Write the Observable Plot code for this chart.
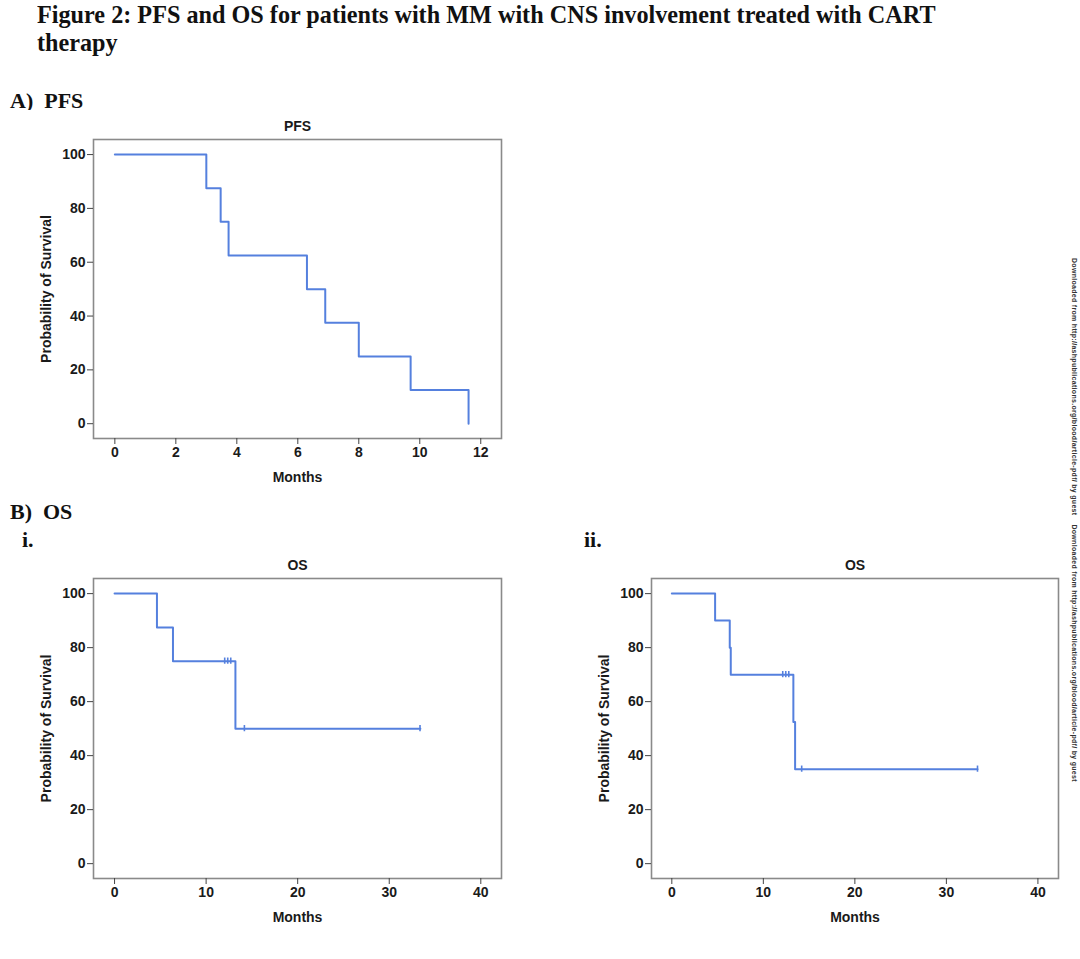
<!DOCTYPE html>
<html>
<head>
<meta charset="utf-8">
<script src="https://cdn.jsdelivr.net/npm/d3@7"></script>
<script src="https://cdn.jsdelivr.net/npm/@observablehq/plot@0.6"></script>
<style>
  html, body { margin: 0; padding: 0; background: #fff; }
  body { width: 1080px; height: 959px; position: relative; overflow: hidden; }
  .serif { position: absolute; font-family: "Liberation Serif", "Times New Roman", serif; font-weight: bold; color: #111; white-space: nowrap; }
  .chart { position: absolute; }
  #title { transform-origin: 0 0; transform: scaleX(0.968); }
  #watermark { position: absolute; left: 1078px; top: 258px; transform-origin: 0 0; transform: rotate(90deg); font: bold 7px "Liberation Sans", Arial, sans-serif; color: #333; white-space: nowrap; letter-spacing: 0.3px; }
</style>
</head>
<body>
<div class="serif" id="title" style="left:37px; top:1px; font-size:25px; line-height:28px;">Figure 2: PFS and OS for patients with MM with CNS involvement treated with CART<br>therapy</div>
<div class="serif" style="left:10px; top:88px; font-size:22px;">A)&nbsp;&nbsp;PFS</div>
<div class="serif" style="left:10px; top:499px; font-size:22px;">B)&nbsp;&nbsp;OS</div>
<div class="serif" style="left:22px; top:527px; font-size:22px;">i.</div>
<div class="serif" style="left:584px; top:527px; font-size:22px;">ii.</div>
<div id="pfs" class="chart" style="left:0px; top:110px;"></div>
<div id="os1" class="chart" style="left:0px; top:550px;"></div>
<div id="os2" class="chart" style="left:558px; top:550px;"></div>
<div id="watermark">Downloaded from http://ashpublications.org/blood/article-pdf/ by guest &nbsp;&nbsp; Downloaded from http://ashpublications.org/blood/article-pdf/ by guest</div>
<script>
// ---- Data ----
// A) PFS (Kaplan-Meier steps)
const pfsMonths   = [0, 3.0, 3.47, 3.73, 6.3, 6.9, 8.0, 9.7, 11.6];
const pfsSurvival = [100, 87.5, 75, 62.5, 50, 37.5, 25, 12.5, 0];
const pfsTicks    = [0, 2, 4, 6, 8, 10, 12];

// B i) OS
const os1Months   = [0, 4.63, 6.38, 13.2, 33.4];
const os1Survival = [100, 87.5, 75, 50, 50];
const os1CensorMonths   = [12.03, 12.36, 12.69, 14.18, 33.36];
const os1CensorSurvival = [75, 75, 75, 50, 50];

// B ii) OS
const os2Months   = [0, 4.73, 6.33, 6.44, 13.28, 13.47, 33.4];
const os2Survival = [100, 90, 80, 70, 52.5, 35, 35];
const os2CensorMonths   = [12.12, 12.45, 12.78, 14.19, 33.4];
const os2CensorSurvival = [70, 70, 70, 35, 35];

const osTicks  = [0, 10, 20, 30, 40];
const survTicks = [0, 20, 40, 60, 80, 100];

const LINE = "#5580de";

function kmChart({title, months, survival, cMonths, cSurv, xDomain, xTicks, marginLeft, marginRight, marginTop}) {
  const steps = months.map((m, i) => ({m, s: survival[i]}));
  const censors = (cMonths || []).map((m, i) => ({m, s: cSurv[i]}));
  return Plot.plot({
    width: 520,
    height: 380,
    marginLeft, marginRight, marginTop,
    marginBottom: 52,
    style: {fontFamily: "'Liberation Sans', Arial, sans-serif", fontSize: "14px", fontWeight: "bold", color: "#1a1a1a", background: "white", overflow: "visible"},
    x: {domain: xDomain},
    y: {domain: [-5.5, 105.6]},
    marks: [
      Plot.frame({stroke: "#8a8a8a", strokeWidth: 1.6}),
      Plot.axisX({ticks: xTicks, tickSize: 6, tickPadding: 3, tickFormat: d => String(d), fontSize: 14, fontWeight: "bold", label: "Months", labelAnchor: "center", labelOffset: 43, labelArrow: "none", stroke: "#444"}),
      Plot.axisY({ticks: survTicks, tickSize: 6, tickPadding: 2, tickFormat: d => String(d), fontSize: 14, fontWeight: "bold", label: "Probability of Survival", labelAnchor: "center", labelOffset: 52, labelArrow: "none", stroke: "#444"}),
      Plot.text([title], {frameAnchor: "top", dy: -18, fontSize: 14, fontWeight: "bold"}),
      Plot.line(steps, {x: "m", y: "s", curve: "step-after", stroke: LINE, strokeWidth: 2}),
      Plot.ruleX(censors, {x: "m", y1: d => d.s - 1.15, y2: d => d.s + 1.15, stroke: LINE, strokeWidth: 1.6})
    ]
  });
}

document.getElementById("pfs").append(kmChart({
  title: "PFS", months: pfsMonths, survival: pfsSurvival,
  xDomain: [-0.7, 12.68], xTicks: pfsTicks, marginLeft: 93, marginRight: 19, marginTop: 29
}));
document.getElementById("os1").append(kmChart({
  title: "OS", months: os1Months, survival: os1Survival, cMonths: os1CensorMonths, cSurv: os1CensorSurvival,
  xDomain: [-2.3, 42.26], xTicks: osTicks, marginLeft: 93, marginRight: 19, marginTop: 28
}));
document.getElementById("os2").append(kmChart({
  title: "OS", months: os2Months, survival: os2Survival, cMonths: os2CensorMonths, cSurv: os2CensorSurvival,
  xDomain: [-2.22, 42.25], xTicks: osTicks, marginLeft: 93, marginRight: 20, marginTop: 28
}));
</script>
</body>
</html>
